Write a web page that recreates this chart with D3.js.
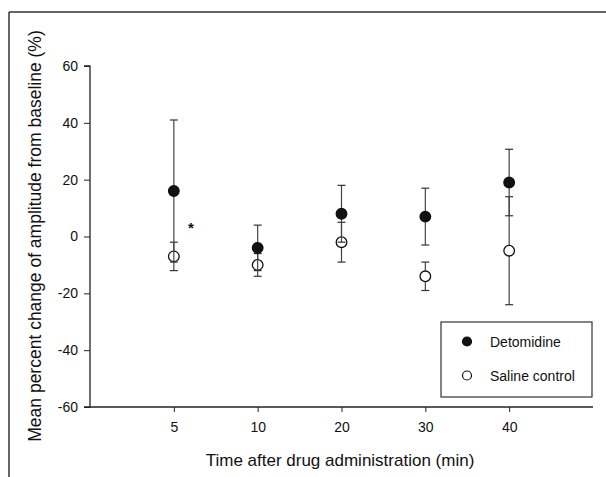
<!DOCTYPE html>
<html>
<head>
<meta charset="utf-8">
<script src="https://cdn.jsdelivr.net/npm/d3@7"></script>
<style>
  html, body { margin: 0; padding: 0; background: #fff; }
  svg { display: block; font-family: "Liberation Sans", Arial, sans-serif; }
</style>
</head>
<body>
<svg id="chart" width="606" height="477"></svg>
<script>
// ---- data ----
const categories = ["5", "10", "20", "30", "40"];
const detomidineMean = [16, -4, 8, 7, 19];
const detomidineErr  = [25, 8, 10, 10, 11.7];
const salineMean     = [-7, -10, -2, -14, -5];
const salineErr      = [5, 4, 7, 5, 19];
const yTicks = [-60, -40, -20, 0, 20, 40, 60];
const seriesNames = ["Detomidine", "Saline control"];

const svg = d3.select("#chart");

// outer frame (top and left)
svg.append("line").attr("x1", 9).attr("x2", 606).attr("y1", 12).attr("y2", 12)
  .attr("stroke", "#666").attr("stroke-width", 2);
svg.append("line").attr("x1", 9).attr("x2", 9).attr("y1", 12).attr("y2", 477)
  .attr("stroke", "#333").attr("stroke-width", 1.5);

const x = d3.scalePoint().domain(categories).range([90, 593]).padding(1);
const y = d3.scaleLinear().domain([-60, 60]).range([407, 66]);

// axes
const yAxis = svg.append("g").attr("transform", "translate(90,0)")
  .call(d3.axisLeft(y).tickValues(yTicks).tickSize(6).tickPadding(6).tickFormat(d => String(d)));
const xAxis = svg.append("g").attr("transform", "translate(0,407)")
  .call(d3.axisBottom(x).tickSize(5).tickPadding(10));
[yAxis, xAxis].forEach(g => {
  g.select(".domain").attr("stroke", "#222").attr("stroke-width", 1.3);
  g.selectAll(".tick line").attr("stroke", "#222");
  g.selectAll(".tick text").attr("font-size", 14).attr("fill", "#111")
    .attr("font-family", "Liberation Sans, Arial, sans-serif");
});
yAxis.select(".domain").attr("d", `M-6,${y(60)}H0V${y(-60)}H-6`);
xAxis.select(".domain").attr("d", `M90,0H593`);

// axis titles
svg.append("text").attr("x", 340).attr("y", 466).attr("text-anchor", "middle")
  .attr("font-size", 17).attr("fill", "#111")
  .text("Time after drug administration (min)");
svg.append("text").attr("transform", "translate(41,236) rotate(-90)")
  .attr("text-anchor", "middle").attr("font-size", 17.5).attr("fill", "#111")
  .text("Mean percent change of amplitude from baseline (%)");

// error bars + points
function drawSeries(means, errs, filled) {
  const g = svg.append("g");
  categories.forEach((c, i) => {
    const cx = x(c), m = means[i], e = errs[i];
    g.append("line").attr("x1", cx).attr("x2", cx)
      .attr("y1", y(m + e)).attr("y2", y(m - e))
      .attr("stroke", "#444").attr("stroke-width", 1.2);
    [m + e, m - e].forEach(v => {
      g.append("line").attr("x1", cx - 4).attr("x2", cx + 4)
        .attr("y1", y(v)).attr("y2", y(v))
        .attr("stroke", "#333").attr("stroke-width", 1.2);
    });
  });
  g.selectAll("circle").data(means).join("circle")
    .attr("cx", (d, i) => x(categories[i])).attr("cy", d => y(d))
    .attr("r", 5.3)
    .attr("fill", filled ? "#111" : "#fff")
    .attr("stroke", "#111").attr("stroke-width", 1.3);
}
drawSeries(salineMean, salineErr, false);
drawSeries(detomidineMean, detomidineErr, true);

// significance marker
svg.append("text").attr("x", 191).attr("y", 233).attr("text-anchor", "middle")
  .attr("font-size", 15).attr("font-weight", "bold").attr("fill", "#111").text("*");

// legend
const lg = svg.append("g");
lg.append("rect").attr("x", 441).attr("y", 322).attr("width", 151).attr("height", 75)
  .attr("fill", "#fff").attr("stroke", "#333").attr("stroke-width", 1.2);
const legY = [341.5, 375.5];
seriesNames.forEach((name, i) => {
  lg.append("circle").attr("cx", 467).attr("cy", legY[i]).attr("r", 4.5)
    .attr("fill", i === 0 ? "#111" : "#fff").attr("stroke", "#111").attr("stroke-width", 1.2);
  lg.append("text").attr("x", 490).attr("y", legY[i] + 5).attr("font-size", 14)
    .attr("fill", "#111").text(name);
});
</script>
</body>
</html>
